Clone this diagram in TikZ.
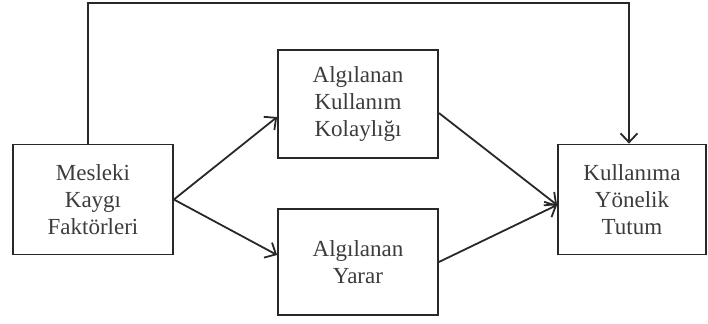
\documentclass[tikz,border=0pt]{standalone}
\usepackage{fontspec}
\setmainfont{Liberation Serif}
\usepackage{tikz}
\usetikzlibrary{arrows.meta,positioning,calc}
\definecolor{linegray}{RGB}{40,40,40}
\definecolor{textgray}{RGB}{60,60,60}

\begin{document}
\begin{tikzpicture}[
    x=0.5pt, y=-0.5pt,
    box/.style={rectangle, draw=linegray, line width=0.9pt, align=center, text=textgray, font=\fontsize{11.5}{13.5}\selectfont, inner sep=0pt, minimum height=55pt, minimum width=80pt},
    arrow/.style={-{Straight Barb[length=4.5pt,width=8.5pt]}, line width=0.9pt, draw=linegray}
]
    \useasboundingbox (0,0) rectangle (708,323);
    \node[box] (mesleki) at (93,199.5) {Mesleki\\Kaygı\\Faktörleri};
    \node[box, minimum height=54pt] (kolaylik) at (358,104) {Algılanan\\Kullanım\\Kolaylığı};
    \node[box, minimum height=53pt] (yarar) at (358,262) {Algılanan\\Yarar};
    \node[box, minimum width=74pt] (tutum) at (632,199.5) {Kullanıma\\Yönelik\\Tutum};
    \draw[arrow] (mesleki.east) -- ([yshift=-6.5pt]kolaylik.west);
    \draw[arrow] (mesleki.east) -- ([yshift=3.5pt]yarar.west);
    \draw[arrow] ([yshift=-4.5pt]kolaylik.east) -- ([yshift=-2.75pt]tutum.west);
    \draw[arrow] (yarar.east) -- ([yshift=-2.75pt]tutum.west);
    \draw[arrow] ([xshift=-2.5pt]mesleki.north) -- ++(0,-140.5) -| ([xshift=-1.5pt]tutum.north);
\end{tikzpicture}
\end{document}
